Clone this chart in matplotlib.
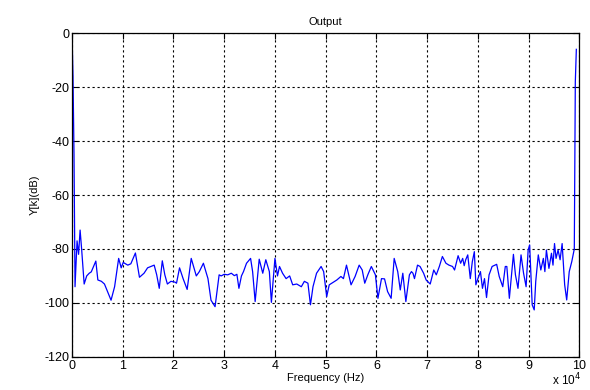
import matplotlib
matplotlib.use("Agg")
import matplotlib.pyplot as plt

plt.rcParams['font.family'] = ['Liberation Sans', 'DejaVu Sans']

title = "Output"
xlabel = "Frequency (Hz)"
ylabel = "Y[k](dB)"
x_ticks = [0, 1, 2, 3, 4, 5, 6, 7, 8, 9, 10]
y_ticks = [0, -20, -40, -60, -80, -100, -120]

# frequency in units of 1e4 Hz
freq = [0.0, 0.02, 0.04, 0.06, 0.10, 0.13, 0.16, 0.19, 0.24, 0.29, 0.34, 0.38,
        0.47, 0.51, 0.58, 0.64, 0.77, 0.84, 0.92, 0.97, 1.01, 1.10, 1.16, 1.25,
        1.33, 1.42, 1.49, 1.62, 1.67, 1.72, 1.78, 1.83, 1.88, 1.95, 2.03, 2.06,
        2.12, 2.19, 2.27, 2.35, 2.45, 2.51, 2.59, 2.68, 2.74, 2.82, 2.90, 2.94,
        3.00, 3.07, 3.14, 3.20, 3.25, 3.29, 3.34, 3.38, 3.44, 3.52, 3.56, 3.61,
        3.69, 3.76, 3.82, 3.89, 3.93, 4.00, 4.05, 4.09, 4.15, 4.22, 4.29, 4.35,
        4.43, 4.52, 4.58, 4.65, 4.70, 4.75, 4.82, 4.91, 4.96, 5.02, 5.07, 5.12,
        5.22, 5.30, 5.35, 5.41, 5.50, 5.58, 5.66, 5.72, 5.77, 5.83, 5.90, 5.98,
        6.03, 6.10, 6.16, 6.22, 6.29, 6.35, 6.42, 6.47, 6.52, 6.58, 6.65, 6.69,
        6.72, 6.75, 6.81, 6.86, 6.93, 6.98, 7.06, 7.13, 7.18, 7.24, 7.30, 7.37,
        7.43, 7.50, 7.54, 7.61, 7.66, 7.70, 7.73, 7.76, 7.80, 7.85, 7.89, 7.93,
        7.96, 8.00, 8.05, 8.09, 8.13, 8.17, 8.22, 8.28, 8.37, 8.42, 8.49, 8.54,
        8.57, 8.62, 8.70, 8.74, 8.79, 8.85, 8.90, 8.95, 8.99, 9.02, 9.07, 9.11,
        9.14, 9.19, 9.24, 9.29, 9.32, 9.35, 9.40, 9.45, 9.48, 9.51, 9.54, 9.58,
        9.62, 9.66, 9.71, 9.75, 9.80, 9.85, 9.90, 9.92, 9.94]
level_db = [0, -16, -45, -94, -77, -82, -73, -80, -93, -90, -89, -88.5,
            -84.5, -91.5, -92, -93, -99, -94, -83.5, -87, -85, -86, -85.5, -81.5,
            -90.5, -89, -87, -86, -89.6, -94.6, -84.4, -89.6, -93, -92, -92.3, -92.7,
            -87, -91, -95, -83.5, -90, -88.4, -85.3, -91, -99, -101.4, -89.6, -90,
            -89.4, -89.6, -89, -89.9, -89.4, -94.6, -90, -88.4, -85.3, -83.5, -88.4, -99.5,
            -83.8, -89, -84, -88.4, -99.8, -83.5, -90, -86.5, -89, -91, -90, -93.3,
            -93, -94, -92, -92.7, -100.7, -94, -89, -86.5, -88.4, -97.7, -93.3, -92.7,
            -91.5, -90.2, -91, -86, -93.3, -90.2, -86, -87.8, -92.7, -89.6, -86.5, -89.6,
            -98.3, -91, -91.1, -95.8, -98.3, -83.5, -88.4, -95.2, -89, -99.5, -89.6, -88.4,
            -89, -91, -86, -86.5, -89, -91.5, -93, -87.8, -89.6, -86.5, -82.8, -85.3,
            -86, -86.5, -87.8, -82.5, -85.3, -83.5, -86.2, -84, -82.2, -91, -84.7, -81,
            -93.3, -91, -88.4, -94.6, -91, -98, -89.6, -86.5, -85.7, -90.2, -94, -86.5,
            -86.5, -98.3, -82, -89.6, -94.6, -82.2, -89, -94, -80.4, -78.5, -100.7, -102.6,
            -92, -82.2, -87.8, -83.5, -88.4, -80.4, -87.2, -81.6, -86, -78, -83.5, -80.4,
            -84, -78, -93.3, -98.9, -88.4, -84.7, -80, -18, -6]

fig = plt.figure(figsize=(5.9, 3.9), dpi=100)
ax = fig.add_axes([0.122, 0.085, 0.860, 0.830])

ax.plot(freq, level_db, color='#0000ff', linewidth=0.9, zorder=3)

ax.set_xlim(0, 10)
ax.set_ylim(-120, 0)
ax.set_xticks(x_ticks)
ax.set_yticks(y_ticks)
ax.set_xticklabels([str(t) for t in x_ticks])
ax.set_yticklabels([str(t) for t in y_ticks])
ax.tick_params(direction='in', length=4, width=0.8, labelsize=9, colors='black',
               top=True, right=True, pad=2)
ax.grid(True, color='black', linestyle=(0, (2, 2.5)), linewidth=0.8)
for s in ax.spines.values():
    s.set_linewidth(0.9)
    s.set_color('black')
    s.set_zorder(4)

ax.set_title(title, fontsize=8, pad=6)
ax.set_xlabel(xlabel, fontsize=8, labelpad=1)
ax.set_ylabel(ylabel, fontsize=8, labelpad=3)
fig.text(0.935, 0.004, r'x 10$^{4}$', fontsize=8.5, ha='left', va='bottom')

fig.savefig('out.png', dpi=100)
